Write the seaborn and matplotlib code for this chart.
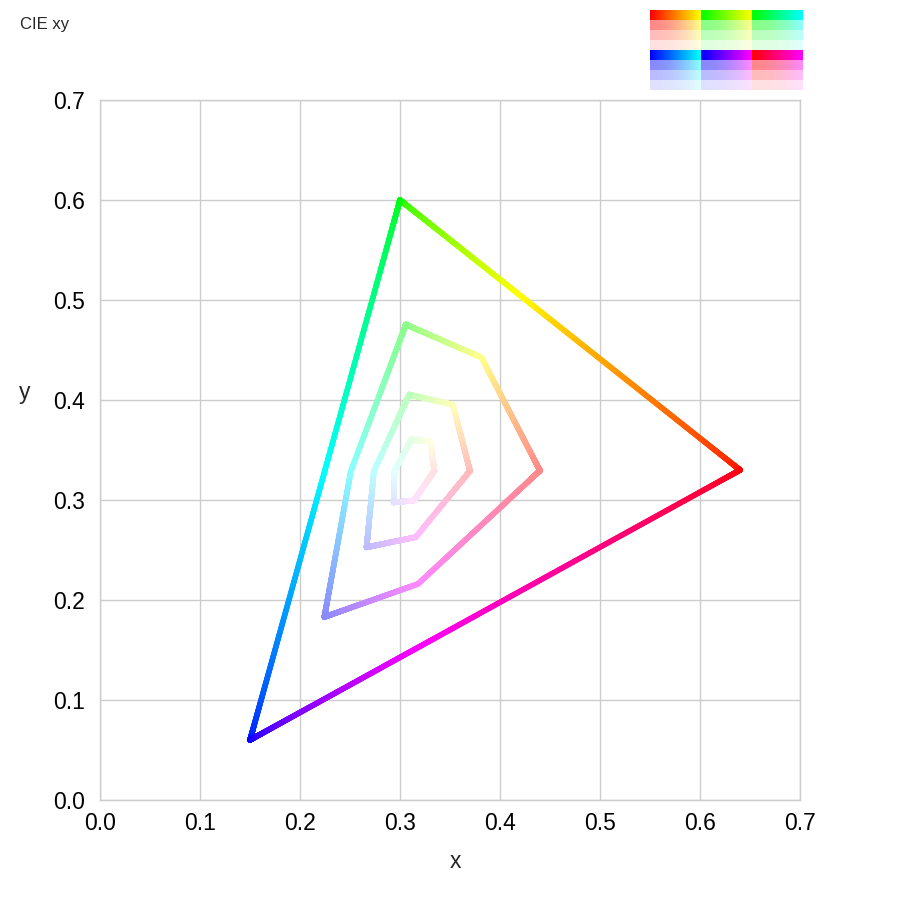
import numpy as np
import pandas as pd
import matplotlib
matplotlib.use("Agg")
import matplotlib.pyplot as plt
import seaborn as sns
from matplotlib.colors import to_rgb

# ---- data -------------------------------------------------------------
# six hue ramps of the sRGB cube edge (start colour -> end colour)
ramp_start = ["#ff0000", "#00ff00", "#00ff00", "#0000ff", "#0000ff", "#ff0000"]
ramp_end   = ["#ffff00", "#ffff00", "#00ffff", "#00ffff", "#ff00ff", "#ff00ff"]
# fraction of white (in linear light) mixed in for each loop / swatch row
tint_levels = [0.0, 0.25, 0.5, 0.75]
ramp_steps = 400
axis_ticks = [0.0, 0.1, 0.2, 0.3, 0.4, 0.5, 0.6, 0.7]
tick_labels = ["0.0", "0.1", "0.2", "0.3", "0.4", "0.5", "0.6", "0.7"]

# sRGB (D65) -> XYZ matrix
M = np.array([[0.4124, 0.3576, 0.1805],
              [0.2126, 0.7152, 0.0722],
              [0.0193, 0.1192, 0.9505]])


def to_linear(c):
    c = np.asarray(c)
    return np.where(c <= 0.04045, c / 12.92, ((c + 0.055) / 1.055) ** 2.4)


def to_srgb(c):
    c = np.asarray(c)
    return np.where(c <= 0.0031308, c * 12.92, 1.055 * c ** (1 / 2.4) - 0.055)


def ramp_linear(i, tint, n):
    a = np.array(to_rgb(ramp_start[i]))
    b = np.array(to_rgb(ramp_end[i]))
    t = np.linspace(0, 1, n)[:, None]
    lin = to_linear(a + (b - a) * t)
    return lin + (1 - lin) * tint


rows = []
for tint in tint_levels:
    for i in range(len(ramp_start)):
        lin = ramp_linear(i, tint, ramp_steps)
        xyz = lin @ M.T
        s = xyz.sum(axis=1)
        rgb = np.clip(to_srgb(lin), 0, 1)
        for k in range(len(lin)):
            rows.append(dict(x=xyz[k, 0] / s[k], y=xyz[k, 1] / s[k],
                             r=rgb[k, 0], g=rgb[k, 1], b=rgb[k, 2]))
df = pd.DataFrame(rows)

# ---- figure -----------------------------------------------------------
sns.set_theme(style="white")
plt.rcParams["font.family"] = ["Liberation Sans", "DejaVu Sans"]

fig = plt.figure(figsize=(9, 9), dpi=100)
ax = fig.add_axes([100 / 900, 100 / 900, 700 / 900, 700 / 900])

sns.scatterplot(data=df, x="x", y="y", ax=ax, s=16, linewidth=0, legend=False)
pts = ax.collections[-1]
pts.set_facecolor(df[["r", "g", "b"]].to_numpy())
pts.set_edgecolor("none")
pts.set_zorder(3)

ax.set_xlim(0, 0.7)
ax.set_ylim(0, 0.7)
ax.set_xticks(axis_ticks)
ax.set_yticks(axis_ticks)
ax.set_xticklabels(tick_labels)
ax.set_yticklabels(tick_labels)
ax.tick_params(axis="both", length=0, labelsize=16.5, colors="#000000")
ax.tick_params(axis="x", pad=9)
ax.tick_params(axis="y", pad=11)
ax.grid(True, color="#cccccc", linewidth=1.0)
ax.set_axisbelow(True)
for sp in ax.spines.values():
    sp.set_color("#cccccc")
    sp.set_linewidth(1.0)
ax.set_xlabel("x", fontsize=16.5)
ax.set_ylabel("y", fontsize=16.5, rotation=0)
ax.yaxis.set_label_coords((25 - 100) / 700, (800 - 393) / 700)
ax.xaxis.set_label_coords((455 - 100) / 700, -(862 - 800) / 700)
ax.xaxis.label.set_verticalalignment("center")
ax.yaxis.label.set_verticalalignment("center")
ax.yaxis.label.set_horizontalalignment("center")

fig.text(20 / 900, 1 - 24 / 900, "CIE xy", fontsize=12, va="center", ha="left")

# ---- swatch panel ------------------------------------------------------
cols = 51
img = np.zeros((8, 3 * cols, 3))
for g in range(2):
    for ti, tint in enumerate(tint_levels):
        for j in range(3):
            i = g * 3 + j
            lin = ramp_linear(i, tint, cols)
            img[g * 4 + ti, j * cols:(j + 1) * cols] = np.clip(to_srgb(lin), 0, 1)
sax = fig.add_axes([650 / 900, 1 - 90 / 900, 153 / 900, 80 / 900])
sax.imshow(img, aspect="auto", interpolation="nearest")
sax.set_axis_off()

fig.savefig("out.png", dpi=100, facecolor="white")
